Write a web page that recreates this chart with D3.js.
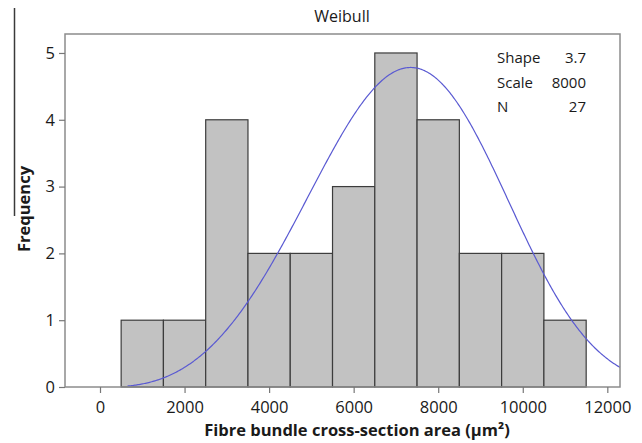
<!DOCTYPE html>
<html>
<head>
<meta charset="utf-8">
<script src="https://cdn.jsdelivr.net/npm/d3@7/dist/d3.min.js"></script>
<style>
  html, body { margin: 0; padding: 0; background: #fff; }
  svg { display: block; }
  text { font-family: "Open Sans", "DejaVu Sans", sans-serif; fill: #1a1a1a; }
</style>
</head>
<body>
<svg id="chart" width="642" height="443"></svg>
<script>
// ---- data ----
const title = "Weibull";
const binStarts = [500, 1500, 2500, 3500, 4500, 5500, 6500, 7500, 8500, 9500, 10500];
const binWidth = 1000;
const counts = [1, 1, 4, 2, 2, 3, 5, 4, 2, 2, 1];
const xTicks = [0, 2000, 4000, 6000, 8000, 10000, 12000];
const yTicks = [0, 1, 2, 3, 4, 5];
const shape = 3.7;
const scale = 8000;
const N = 27;
const statLabels = ["Shape", "Scale", "N"];
const statValues = ["3.7", "8000", "27"];
const xLabel = "Fibre bundle cross-section area (\u00b5m\u00b2)";
const yLabel = "Frequency";

// ---- layout ----
const svg = d3.select("#chart");
const L = 65, R = 620, T = 34, B = 387;

const x = d3.scaleLinear().domain([-828, 12300]).range([L, R]);
const y = d3.scaleLinear().domain([0, 5.284]).range([B, T]);

// stray crop line at far left
svg.append("line").attr("x1", 14.5).attr("x2", 14.5).attr("y1", 8).attr("y2", 216)
  .attr("stroke", "#3a3a3a").attr("stroke-width", 1.5);

// bars
svg.append("g").selectAll("rect").data(binStarts).join("rect")
  .attr("x", (d) => x(d))
  .attr("width", (d) => x(d + binWidth) - x(d))
  .attr("y", (d, i) => y(counts[i]))
  .attr("height", (d, i) => y(0) - y(counts[i]))
  .attr("fill", "#c2c2c2")
  .attr("stroke", "#3c3c3c")
  .attr("stroke-width", 1.2);

// fitted Weibull curve (from the fitted parameters shown on the chart)
const pdf = (v) => (shape / scale) * Math.pow(v / scale, shape - 1) * Math.exp(-Math.pow(v / scale, shape));
const curvePts = d3.range(650, 12300 + 1, 25).map((v) => [v, N * binWidth * pdf(v)]);
svg.append("path")
  .datum(curvePts)
  .attr("fill", "none")
  .attr("stroke", "#5a5ad2")
  .attr("stroke-width", 1.2)
  .attr("d", d3.line().x((d) => x(d[0])).y((d) => y(d[1])));

// frame
svg.append("rect").attr("x", L).attr("y", T).attr("width", R - L).attr("height", B - T)
  .attr("fill", "none").attr("stroke", "#8c8c8c").attr("stroke-width", 1.5);

// axes
const xAxis = svg.append("g").attr("transform", `translate(0,${B})`)
  .call(d3.axisBottom(x).tickValues(xTicks).tickFormat(d3.format("d")).tickSize(6).tickPadding(4));
const yAxis = svg.append("g").attr("transform", `translate(${L},0)`)
  .call(d3.axisLeft(y).tickValues(yTicks).tickFormat(d3.format("d")).tickSize(6).tickPadding(4));
[xAxis, yAxis].forEach((g) => {
  g.select(".domain").remove();
  g.selectAll(".tick line").attr("stroke", "#777").attr("stroke-width", 1.2);
  g.selectAll(".tick text").attr("font-size", 16.5).style("font-family", '"Open Sans", sans-serif').attr("fill", "#1a1a1a");
});
xAxis.selectAll(".tick text").attr("dy", "0.95em");

// title
svg.append("text").attr("x", 342).attr("y", 22).attr("text-anchor", "middle")
  .attr("font-size", 16).text(title);

// axis titles
svg.append("text").attr("x", 357).attr("y", 436).attr("text-anchor", "middle")
  .attr("font-size", 16.5).attr("font-weight", "bold").text(xLabel);
svg.append("text").attr("transform", "translate(30,209) rotate(-90)").attr("text-anchor", "middle")
  .attr("font-size", 16.5).attr("font-weight", "bold").text(yLabel);

// stats box
const stats = svg.append("g");
statLabels.forEach((lab, i) => {
  stats.append("text").attr("x", 497).attr("y", 63 + i * 24.5).attr("font-size", 15).text(lab);
  stats.append("text").attr("x", 586).attr("y", 63 + i * 24.5).attr("font-size", 15)
    .attr("text-anchor", "end").text(statValues[i]);
});
</script>
</body>
</html>
